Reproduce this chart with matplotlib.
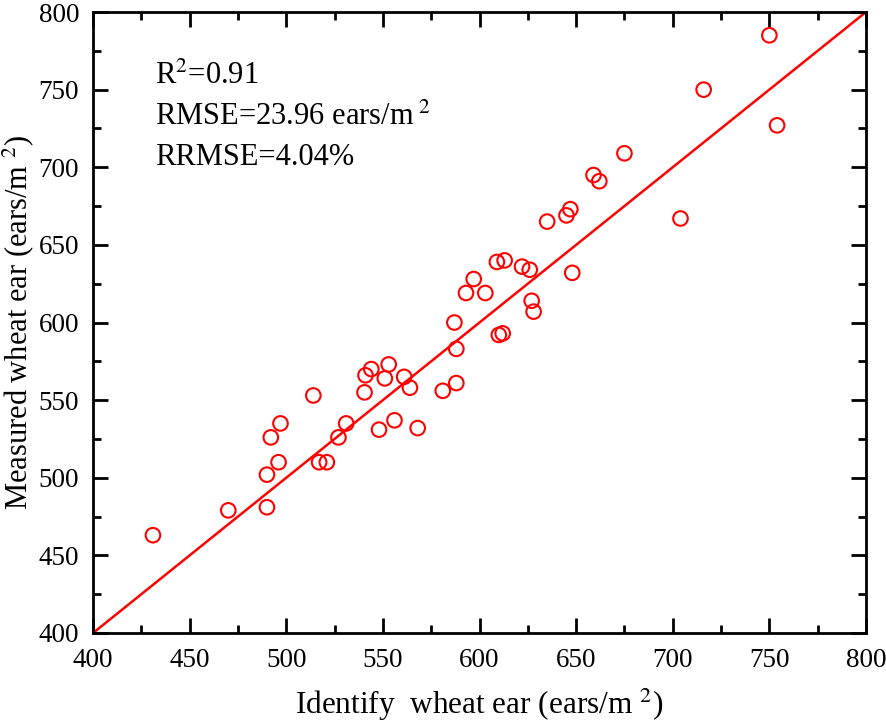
#!/usr/bin/env python3
"""Identified vs measured wheat ear density scatter with 1:1 line."""

import numpy as np
from matplotlib import pyplot as plt
from matplotlib.ticker import MultipleLocator

plt.rcParams['font.family'] = ['Liberation Serif', 'DejaVu Serif']
plt.rcParams['mathtext.fontset'] = 'stix'

# identified (x) vs measured (y) ears per m2
identified = [431, 470, 490, 490, 496, 492, 497, 514, 517, 521,
              527, 531, 540.5, 541, 544, 548, 551, 553, 556, 561,
              564, 568, 581, 588, 588, 587, 593, 597, 603, 610,
              612, 609, 613, 622, 626, 627, 628, 648, 635, 645,
              647, 659, 662, 675, 704, 716, 750, 754]
measured = [463, 479, 481, 502, 510, 526, 535, 553, 510, 510,
            526, 535, 555, 566, 570, 531, 564, 573, 537, 565,
            558, 532, 556, 561, 583, 600, 619, 628, 619, 592,
            593, 639, 640, 636, 634, 614, 607, 632, 665, 669,
            673, 695, 691, 709, 667, 750, 785, 727]
one_to_one = [400, 800]
stats_lines = [r'R$^{2}$=0.91', r'RMSE=23.96 ears/m$^{\ 2}$', 'RRMSE=4.04%']

fig = plt.figure(figsize=(8.86, 7.28), dpi=100)
ax = fig.add_axes([0.105, 0.1305, 0.8724, 0.853])

ax.plot(one_to_one, one_to_one, color='red', linewidth=1.8, zorder=2)
ax.scatter(identified, measured, s=110, facecolors='none', edgecolors='red',
           linewidths=1.5, zorder=3, clip_on=False)

ax.set_xlim(400, 800)
ax.set_ylim(400, 800)
ax.xaxis.set_major_locator(MultipleLocator(50))
ax.xaxis.set_minor_locator(MultipleLocator(25))
ax.yaxis.set_major_locator(MultipleLocator(50))
ax.yaxis.set_minor_locator(MultipleLocator(25))
ax.tick_params(which='both', direction='in', top=True, right=True, width=2, labelsize=19.5)
ax.tick_params(which='major', length=11)
ax.tick_params(axis='x', which='major', pad=11)
ax.tick_params(axis='y', which='major', pad=10)
ax.tick_params(which='minor', length=6)
for sp in ax.spines.values():
    sp.set_linewidth(2)

ax.set_xlabel(r'Identify  wheat ear (ears/m $^{2}$)', fontsize=22.5, labelpad=10)
ax.set_ylabel(r'Measured wheat ear (ears/m $^{2}$)', fontsize=22, labelpad=2)

for i, txt in enumerate(stats_lines):
    ax.text(0.08, 0.897 - i * 0.066, txt, transform=ax.transAxes,
            fontsize=22, va='center', ha='left')

plt.savefig('out.png', dpi=100)
